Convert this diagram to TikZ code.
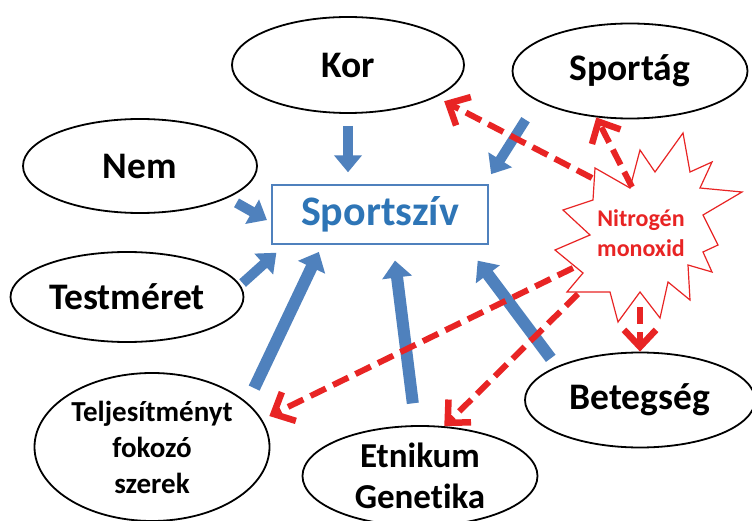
\documentclass[tikz,border=0pt]{standalone}
\usepackage{fontspec}
\setmainfont{Carlito}[Ligatures=CommonOff]
\usepackage{xcolor}
\usetikzlibrary{shapes.geometric}
\usetikzlibrary{arrows.meta}
\usetikzlibrary{calc}

\definecolor{szivblue}{RGB}{79,129,189}
\definecolor{szivtext}{RGB}{46,117,182}
\definecolor{noxred}{RGB}{232,36,36}

\begin{document}
\begin{tikzpicture}[x=1pt,y=-1pt,
    oval/.style={draw,ellipse,line width=1.8pt,inner sep=0pt,align=center,
        font=\fontsize{37.5}{40}\selectfont\bfseries},
    blockarrow/.style={szivblue,line width=10pt,-{Triangle[length=17pt,width=27pt]}},
    longarrow/.style={szivblue,line width=12pt,-{Triangle[length=17pt,width=29pt]}},
    noarrow/.style={noxred,line width=6pt,dash pattern=on 17pt off 8pt,
        -{Straight Barb[length=17pt,width=32pt,line width=6.5pt]}}]
    \useasboundingbox[fill=white] (0,0) rectangle (752,521);

    % influencing factors
    \node[oval,minimum width=232pt,minimum height=96pt] (kor) at (348,65) {Kor};
    \node[oval,minimum width=235pt,minimum height=95pt] (sportag) at (630,71) {Sportág};
    \node[oval,minimum width=234pt,minimum height=94pt] (nem) at (140,166) {Nem};
    \node[oval,minimum width=233pt,minimum height=90pt] (testmeret) at (127,297) {Testméret};
    \node[oval,minimum width=235pt,minimum height=148pt,font=\fontsize{29}{36}\selectfont\bfseries]
        (teljesitmeny) at (152,447) {Teljesítményt\\fokozó\\szerek};
    \node[oval,minimum width=235pt,minimum height=100pt,font=\fontsize{35}{41}\selectfont\bfseries]
        (etnikum) at (420,476) {Etnikum\\Genetika};
    \node[oval,minimum width=230pt,minimum height=95pt] (betegseg) at (640,400) {Betegség};

    \node[draw=szivblue,line width=1.4pt,minimum width=216pt,minimum height=59pt,
        text=szivtext,font=\fontsize{42}{46}\selectfont\bfseries] (sportsziv) at (380,214.5) {Sportszív};

    % nitrogen monoxide burst
    \draw[noxred,line width=1.2pt,fill=white] (595,168) -- (630,188) -- (640,150) -- (655,172)
        -- (683,133) -- (690,172) -- (712,162) -- (700,188) -- (742,192) -- (703,215)
        -- (718,245) -- (703,252) -- (712,272) -- (688,265) -- (690,300) -- (668,282)
        -- (660,318) -- (640,292) -- (618,322) -- (610,292) -- (567,292) -- (583,273)
        -- (555,250) -- (590,235) -- (563,210) -- (593,200) -- cycle;
    \node[text=noxred,align=center,font=\fontsize{24}{30}\selectfont\bfseries] (no) at (641,233) {Nitrogén\\monoxid};

    \coordinate (nk) at (592,178);
    \coordinate (ns) at (632,187);
    \coordinate (nb) at (640,307);
    \coordinate (nt) at (573,268);
    \coordinate (ne) at (578,294);

    % blue arrows
    \draw[blockarrow,shorten <=12pt,shorten >=12pt] (kor.south) -- (kor.south |- sportsziv.north);
    \draw[blockarrow,shorten <=10pt,shorten >=5pt] (nem.-20) -- ([yshift=-8pt]sportsziv.west);
    \draw[blockarrow,shorten <=3pt,shorten >=12pt] (testmeret.6) -- ([xshift=14pt]sportsziv.south west);
    \draw[blockarrow,shorten <=22pt,shorten >=12pt] (sportag.198) -- ([xshift=-4pt]sportsziv.north east);
    \draw[longarrow,shorten <=16pt,shorten >=8pt] (teljesitmeny.25) -- ([xshift=51pt]sportsziv.south west);
    \draw[longarrow,shorten <=22pt,shorten >=16pt] (etnikum.95) -- ([xshift=13pt]sportsziv.south);
    \draw[longarrow,shorten <=10pt,shorten >=20pt] (betegseg.158) -- ([xshift=-23pt]sportsziv.south east);

    % red dashed arrows
    \draw[noarrow,shorten >=9pt] (nk) -- (kor.-20);
    \draw[noarrow] (ns) -- (sportag.234);
    \draw[noarrow] (nb) -- (betegseg.north);
    \draw[noarrow,shorten >=8pt] (nt) -- (teljesitmeny.14);
    \draw[noarrow] (ne) -- (etnikum.64);
\end{tikzpicture}
\end{document}
